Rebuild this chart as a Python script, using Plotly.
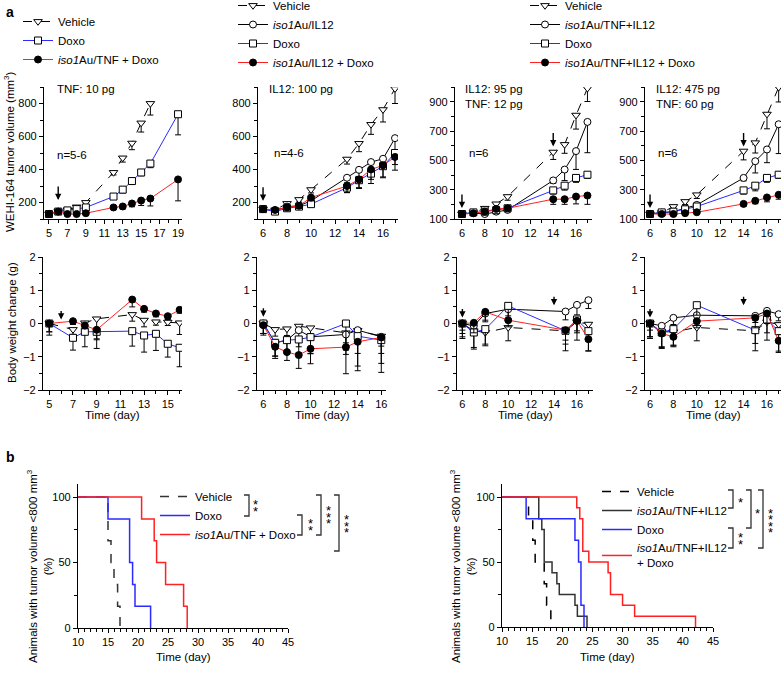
import plotly.graph_objects as go

W, H = 784, 673
FONT = "Liberation Sans, Arial, sans-serif"
BLUE = "#2b2bff"
RED = "#ff2222"

# ---------------- DATA ----------------
# Panel a, tumor volume (mm3) - panel 1 (TNF)
a1_veh_x = [5, 6, 7, 8, 9, 12, 13, 14, 15, 16]
a1_veh_y = [130, 145, 155, 173, 200, 382, 470, 560, 682, 800]
a1_veh_e = [5, 5, 10, 15, 15, 15, 25, 40, 55, 70]
a1_dox_x = [5, 6, 7, 8, 9, 12, 13, 14, 15, 16, 19]
a1_dox_y = [130, 145, 152, 160, 170, 236, 278, 330, 382, 436, 735]
a1_dox_e = [5, 5, 10, 10, 15, 15, 20, 20, 20, 25, 125]
a1_cmb_x = [5, 6, 7, 8, 9, 12, 13, 14, 15, 16, 19]
a1_cmb_y = [130, 145, 130, 130, 135, 170, 176, 194, 212, 224, 340]
a1_cmb_e = [5, 5, 5, 5, 5, 10, 15, 20, 30, 45, 130]

# panel 2 (IL12)
a2_x = [6, 7, 8, 9, 10, 13, 14, 15, 16, 17]
a2_veh_y = [160, 155, 194, 218, 278, 463, 558, 673, 763, 890]
a2_veh_e = [10, 10, 15, 15, 20, 30, 50, 60, 75, 90]
a2_il_y = [160, 150, 175, 180, 210, 350, 398, 445, 465, 590]
a2_il_e = [10, 10, 15, 15, 15, 30, 40, 50, 60, 90]
a2_dox_y = [160, 145, 165, 175, 190, 290, 335, 375, 420, 500]
a2_dox_e = [10, 10, 15, 15, 15, 30, 50, 60, 70, 70]
a2_cmb_y = [160, 155, 170, 180, 230, 300, 340, 400, 425, 476]
a2_cmb_e = [10, 10, 15, 15, 20, 40, 50, 60, 70, 80]

# panel 3 (IL12 95 pg / TNF 12 pg)
a3_x = [6, 7, 8, 9, 10, 14, 15, 16, 17]
a3_veh_y = [134, 143, 173, 203, 253, 556, 608, 808, 991]
a3_veh_e = [5, 10, 15, 20, 25, 50, 60, 95, 90]
a3_il_y = [134, 140, 134, 150, 162, 363, 437, 563, 762]
a3_il_e = [5, 5, 5, 10, 10, 20, 75, 125, 210]
a3_dox_y = [134, 145, 150, 160, 173, 295, 327, 380, 402]
a3_dox_e = [5, 5, 10, 10, 10, 25, 30, 30, 25]
a3_cmb_y = [134, 139, 150, 169, 173, 235, 235, 253, 260]
a3_cmb_e = [5, 5, 10, 10, 10, 35, 35, 50, 60]

# panel 4 (IL12 475 pg / TNF 60 pg)
a4_x = [6, 7, 8, 9, 10, 14, 15, 16, 17]
a4_veh_y = [134, 143, 185, 219, 265, 563, 620, 815, 998]
a4_veh_e = [5, 10, 15, 20, 25, 60, 70, 100, 100]
a4_il_y = [134, 143, 150, 173, 196, 380, 494, 574, 746]
a4_il_e = [5, 5, 10, 10, 10, 20, 80, 90, 200]
a4_dox_y = [134, 145, 150, 166, 185, 295, 327, 380, 402]
a4_dox_e = [5, 5, 10, 10, 10, 25, 35, 30, 25]
a4_cmb_y = [134, 134, 134, 140, 146, 203, 224, 247, 265]
a4_cmb_e = [5, 5, 5, 5, 5, 15, 20, 30, 30]

# Body weight change (g)
b1_x = [5, 7, 8, 9, 12, 13, 14, 15, 16]
b1_veh_y = [0, -0.18, 0.02, 0.14, 0.27, 0.10, 0.05, 0.04, 0.02]
b1_veh_e = [0.35, 0.15, 0.3, 0.6, 0.2, 0.2, 0.1, 0.1, 0.35]
b1_dox_y = [0, -0.43, -0.25, -0.25, -0.23, -0.36, -0.31, -0.61, -0.73]
b1_dox_e = [0.25, 0.37, 0.45, 0.5, 0.45, 0.5, 0.5, 0.4, 0.57]
b1_cmb_y = [0, 0.07, -0.06, -0.19, 0.72, 0.44, 0.30, 0.22, 0.41]
b1_cmb_e = [0.25, 0.1, 0.1, 0.3, 0.22, 0.1, 0.1, 0.1, 0.1]

b2_x = [6, 7, 8, 9, 10, 13, 14, 16]
b2_veh_y = [0, -0.18, -0.16, -0.08, -0.13, -0.28, -0.21, -0.38]
b2_veh_e = [0.3, 0.2, 0.2, 0.2, 0.3, 0.3, 0.3, 0.3]
b2_il_y = [0, -0.58, -0.50, -0.20, -0.40, -0.33, -0.20, -0.40]
b2_il_e = [0.3, 0.4, 0.4, 0.5, 0.5, 0.6, 0.7, 0.5]
b2_dox_y = [0, -0.58, -0.50, -0.48, -0.41, 0.0, -0.38, -0.50]
b2_dox_e = [0.3, 0.4, 0.4, 0.4, 0.5, 0.8, 0.9, 0.7]
b2_cmb_y = [-0.05, -0.70, -0.86, -0.95, -0.76, -0.71, -0.55, -0.42]
b2_cmb_e = [0.3, 0.35, 0.25, 0.4, 0.45, 0.8, 0.87, 1.05]

b3_x = [6, 7, 8, 10, 15, 16, 17]
b3_veh_y = [0, -0.22, -0.27, -0.12, -0.22, 0.05, -0.02]
b3_veh_e = [0.4, 0.5, 0.35, 0.4, 0.6, 0.55, 0.3]
b3_il_y = [0, -0.07, 0.30, 0.43, 0.36, 0.56, 0.70]
b3_il_e = [0.2, 0.2, 0.2, 0.3, 0.25, 0.3, 0.25]
b3_dox_y = [0, -0.27, -0.17, 0.53, -0.22, 0.12, -0.23]
b3_dox_e = [0.45, 0.5, 0.5, 0.3, 0.4, 0.4, 0.6]
b3_cmb_y = [0, 0.02, 0.35, 0.10, -0.20, 0.08, -0.47]
b3_cmb_e = [0.3, 0.3, 0.3, 0.2, 0.3, 0.3, 0.35]

b4_x = [6, 7, 8, 10, 15, 16, 17]
b4_veh_y = [0, -0.25, -0.25, -0.12, -0.22, 0.05, -0.03]
b4_veh_e = [0.4, 0.5, 0.4, 0.4, 0.6, 0.55, 0.3]
b4_il_y = [0, -0.07, 0.17, 0.25, 0.23, 0.38, 0.28]
b4_il_e = [0.2, 0.2, 0.2, 0.3, 0.2, 0.2, 0.2]
b4_dox_y = [0, -0.27, -0.17, 0.55, -0.20, 0.12, -0.23]
b4_dox_e = [0.45, 0.45, 0.5, 0.3, 0.4, 0.4, 0.6]
b4_cmb_y = [0, -0.30, -0.40, 0.07, 0.17, 0.30, -0.52]
b4_cmb_e = [0.4, 0.4, 0.3, 0.2, 0.3, 0.3, 0.35]

# Treatment days (arrows)
dose_a1 = [6]
dose_a2 = [6]
dose_a3 = [6, 14]
dose_a4 = [6, 14]

# Panel b: Kaplan-Meier (animals with tumor volume <800 mm3, %)
km1_veh_t = [10, 15, 15.5, 16, 16.6, 17]
km1_veh_s = [100, 66.7, 50, 33.3, 16.7, 0]
km1_dox_t = [10, 15, 18.6, 19.1, 19.5, 22.1]
km1_dox_s = [100, 83.3, 50, 33.3, 16.7, 0]
km1_cmb_t = [10, 20.6, 22.7, 23.1, 24.6, 27.6, 28.2]
km1_cmb_s = [100, 83.3, 66.7, 50, 33.3, 16.7, 0]

km2_veh_t = [10, 14.4, 15.1, 15.5, 17.0, 17.4, 18.1]
km2_veh_s = [100, 83.3, 66.7, 50, 33.3, 16.7, 0]
km2_il_t = [10, 16.1, 16.6, 17.0, 18.3, 19.1, 19.5, 22.1, 22.5, 24.1]
km2_il_s = [100, 83.3, 75, 50, 41.7, 33.3, 25, 16.7, 8.3, 0]
km2_dox_t = [10, 14.0, 22.1, 22.7, 23.1, 23.6]
km2_dox_s = [100, 83.3, 66.7, 50, 16.7, 0]
km2_cmb_t = [10, 22.4, 22.9, 23.4, 24.4, 27.6, 28.0, 30.0, 32.0, 42.1]
km2_cmb_s = [100, 91.7, 83.3, 58.3, 50, 41.7, 25, 16.7, 8.3, 0]

# Significance stars per bracket
sig_left = ["**", "**", "***", "***"]
sig_right = ["*", "*", "**", "****"]

# ---------------- LAYOUT HELPERS ----------------
def px(x):
    return x / W


def py(y):
    return 1 - y / H


fig = go.Figure()

axis_base = dict(showline=True, linecolor="black", linewidth=1.2, ticks="outside",
                 ticklen=4, tickwidth=1.2, tickcolor="black", showgrid=False, automargin=False,
                 zeroline=False, tickfont=dict(size=11, color="black", family=FONT))


def minor(d):
    return dict(ticks="outside", ticklen=2.5, tickwidth=1, tickcolor="black", dtick=d, showgrid=False)


# id, x px domain, y px domain(top,bottom), xrange, yrange, x tick0/dtick/minor, y tick0/dtick/minor
axes_cfg = [
    (1, (44, 182), (87, 219), (4.46, 19.43), (100, 900), (5, 2, 1), (200, 200, 100)),
    (2, (258, 398), (87, 219), (5.58, 17.25), (100, 900), (6, 2, 1), (200, 200, 100)),
    (3, (455, 592), (87, 219), (5.39, 17.4), (100, 1000), (6, 2, 1), (100, 200, 100)),
    (4, (645, 781), (87, 219), (5.57, 17.2), (100, 1000), (6, 2, 1), (100, 200, 100)),
    (5, (43, 182), (257, 390), (4.47, 16.2), (-2, 2), (5, 2, 1), (-2, 1, 0.5)),
    (6, (257, 386), (257, 390), (5.46, 16.4), (-2, 2), (6, 2, 1), (-2, 1, 0.5)),
    (7, (457, 593), (257, 390), (5.53, 17.4), (-2, 2), (6, 2, 1), (-2, 1, 0.5)),
    (8, (645, 781), (257, 390), (5.57, 17.2), (-2, 2), (6, 2, 1), (-2, 1, 0.5)),
    (9, (78, 288), (484, 628), (10, 45), (0, 110), (10, 5, 1), (0, 50, 25)),
    (10, (502, 713), (484, 627), (10, 45), (0, 110), (10, 5, 1), (0, 50, 25)),
]

for i, xd, yd, xr, yr, xt, yt in axes_cfg:
    sx = "" if i == 1 else str(i)
    fig.layout["xaxis" + sx] = dict(axis_base, domain=[px(xd[0]), px(xd[1])], range=list(xr),
                                    anchor="y" + sx, tick0=xt[0], dtick=xt[1], minor=minor(xt[2]))
    fig.layout["yaxis" + sx] = dict(axis_base, domain=[py(yd[1]), py(yd[0])], range=list(yr),
                                    anchor="x" + sx, tick0=yt[0], dtick=yt[1], minor=minor(yt[2]))

STYLES = {
    "veh": dict(line=dict(color="black", width=1, dash="dash"),
                marker=dict(symbol="triangle-down", size=7.5, color="white", line=dict(color="black", width=1))),
    "il": dict(line=dict(color="black", width=1),
               marker=dict(symbol="circle", size=7, color="white", line=dict(color="black", width=1))),
    "dox": dict(line=dict(color=BLUE, width=1),
                marker=dict(symbol="square", size=7, color="white", line=dict(color="black", width=1))),
    "cmb": dict(line=dict(color=RED, width=1),
                marker=dict(symbol="circle", size=7, color="black", line=dict(color="black", width=1))),
}


def series(i, x, y, e, kind, name, legend=None):
    sx = "" if i == 1 else str(i)
    st = STYLES[kind]
    fig.add_trace(go.Scatter(
        x=x, y=y, mode="lines+markers", name=name, xaxis="x" + sx, yaxis="y" + sx,
        line=st["line"], marker=st["marker"],
        error_y=dict(type="data", symmetric=False, array=[0] * len(e), arrayminus=e,
                     color="black", thickness=1, width=3),
        showlegend=legend is not None, legend=legend or "legend"))


ISO = "<i>iso1</i>Au"
# panel a1
series(1, a1_veh_x, a1_veh_y, a1_veh_e, "veh", "Vehicle", "legend")
series(1, a1_dox_x, a1_dox_y, a1_dox_e, "dox", "Doxo", "legend")
series(1, a1_cmb_x, a1_cmb_y, a1_cmb_e, "cmb", ISO + "/TNF + Doxo", "legend")
# panel a2
series(2, a2_x, a2_veh_y, a2_veh_e, "veh", "Vehicle", "legend2")
series(2, a2_x, a2_il_y, a2_il_e, "il", ISO + "/IL12", "legend2")
series(2, a2_x, a2_dox_y, a2_dox_e, "dox", "Doxo", "legend2")
series(2, a2_x, a2_cmb_y, a2_cmb_e, "cmb", ISO + "/IL12 + Doxo", "legend2")
# panel a3
series(3, a3_x, a3_veh_y, a3_veh_e, "veh", "Vehicle", "legend3")
series(3, a3_x, a3_il_y, a3_il_e, "il", ISO + "/TNF+IL12", "legend3")
series(3, a3_x, a3_dox_y, a3_dox_e, "dox", "Doxo", "legend3")
series(3, a3_x, a3_cmb_y, a3_cmb_e, "cmb", ISO + "/TNF+IL12 + Doxo", "legend3")
# panel a4
series(4, a4_x, a4_veh_y, a4_veh_e, "veh", "Vehicle")
series(4, a4_x, a4_il_y, a4_il_e, "il", "TNF+IL12")
series(4, a4_x, a4_dox_y, a4_dox_e, "dox", "Doxo")
series(4, a4_x, a4_cmb_y, a4_cmb_e, "cmb", "TNF+IL12 + Doxo")
# body weight
series(5, b1_x, b1_veh_y, b1_veh_e, "veh", "Vehicle")
series(5, b1_x, b1_dox_y, b1_dox_e, "dox", "Doxo")
series(5, b1_x, b1_cmb_y, b1_cmb_e, "cmb", "TNF + Doxo")
series(6, b2_x, b2_veh_y, b2_veh_e, "veh", "Vehicle")
series(6, b2_x, b2_il_y, b2_il_e, "il", "IL12")
series(6, b2_x, b2_dox_y, b2_dox_e, "dox", "Doxo")
series(6, b2_x, b2_cmb_y, b2_cmb_e, "cmb", "IL12 + Doxo")
series(7, b3_x, b3_veh_y, b3_veh_e, "veh", "Vehicle")
series(7, b3_x, b3_il_y, b3_il_e, "il", "TNF+IL12")
series(7, b3_x, b3_dox_y, b3_dox_e, "dox", "Doxo")
series(7, b3_x, b3_cmb_y, b3_cmb_e, "cmb", "TNF+IL12 + Doxo")
series(8, b4_x, b4_veh_y, b4_veh_e, "veh", "Vehicle")
series(8, b4_x, b4_il_y, b4_il_e, "il", "TNF+IL12")
series(8, b4_x, b4_dox_y, b4_dox_e, "dox", "Doxo")
series(8, b4_x, b4_cmb_y, b4_cmb_e, "cmb", "TNF+IL12 + Doxo")


def km(i, t, s, color, dash, name, legend):
    fig.add_trace(go.Scatter(x=t, y=s, mode="lines", line=dict(color=color, width=1.5, dash=dash, shape="hv"),
                             name=name, xaxis="x%d" % i, yaxis="y%d" % i, legend=legend))


km(9, km1_veh_t, km1_veh_s, "#333333", "dash", "Vehicle", "legend4")
km(9, km1_dox_t, km1_dox_s, BLUE, "solid", "Doxo", "legend4")
km(9, km1_cmb_t, km1_cmb_s, RED, "solid", ISO + "/TNF + Doxo", "legend4")
km(10, km2_veh_t, km2_veh_s, "black", "dash", "Vehicle", "legend5")
km(10, km2_il_t, km2_il_s, "#333333", "solid", ISO + "/TNF+IL12", "legend5")
km(10, km2_dox_t, km2_dox_s, BLUE, "solid", "Doxo", "legend5")
km(10, km2_cmb_t, km2_cmb_s, RED, "solid", ISO + "/TNF+IL12<br>+ Doxo", "legend5")

# ---------------- ANNOTATIONS ----------------
ann = []


def text(x, y, t, size=11.5, xanchor="left", angle=0, bold=False, family=FONT):
    ann.append(dict(x=px(x), y=py(y), xref="paper", yref="paper", text=("<b>%s</b>" % t) if bold else t,
                    showarrow=False, xanchor=xanchor, yanchor="middle", textangle=angle,
                    font=dict(size=size, color="black", family=family)))


text(4, 12, "a", 14, bold=True)
text(4, 457, "b", 14, bold=True)
text(55, 89, "TNF: 10 pg")
text(55, 155, "n=5-6")
text(267, 89, "IL12: 100 pg")
text(272, 153, "n=4-6")
text(463, 89, "IL12: 95 pg")
text(463, 104, "TNF: 12 pg")
text(467, 153, "n=6")
text(654, 89, "IL12: 475 pg")
text(654, 104, "TNF: 60 pg")
text(656, 153, "n=6")

text(9, 152, "WEHI-164 tumor volume (mm<sup>3</sup>)", 11.5, "center", -90)
text(12, 323, "Body weight change (g)", 11.5, "center", -90)
for cx in [112, 322, 525, 713]:
    text(cx, 415, "Time (day)", 11.5, "center")
text(183, 657, "Time (day)", 11.5, "center")
text(607, 657, "Time (day)", 11.5, "center")
text(39, 566, "Animals with tumor volume &lt;800 mm<sup>3</sup><br>(%)", 11.5, "center", -90)
text(462, 566, "Animals with tumor volume &lt;800 mm<sup>3</sup><br>(%)", 11.5, "center", -90)

# arrows at treatment days
def arrows(i, days, tip, ay):
    for d in days:
        ann.append(dict(x=d, y=tip, xref="x%d" % i if i > 1 else "x", yref="y%d" % i if i > 1 else "y",
                        ax=0, ay=ay, text="", showarrow=True, arrowhead=2, arrowsize=0.9,
                        arrowwidth=1.4, arrowcolor="black"))


arrows(1, dose_a1, 215, -15)
arrows(2, dose_a2, 210, -15)
arrows(3, [dose_a3[0]], 175, -15)
arrows(3, [dose_a3[1]], 595, -15)
arrows(4, [dose_a4[0]], 175, -15)
arrows(4, [dose_a4[1]], 595, -15)
arrows(5, dose_a1, 0.12, -10)
arrows(6, dose_a2, 0.2, -10)
arrows(7, [dose_a3[0]], 0.18, -10)
arrows(7, [dose_a3[1]], 0.55, -10)
arrows(8, [dose_a4[0]], 0.18, -10)
arrows(8, [dose_a4[1]], 0.55, -10)

# significance brackets
shapes = []


def bracket(x, y0, y1, stars, sx, sy):
    shapes.append(dict(type="path", xref="paper", yref="paper",
                       path="M %f,%f L %f,%f L %f,%f L %f,%f" % (px(x - 5), py(y0), px(x), py(y0),
                                                                px(x), py(y1), px(x - 5), py(y1)),
                       line=dict(color="#333333", width=1.3)))
    n = len(stars)
    for k in range(n):
        text(sx, sy + (k - (n - 1) / 2) * 6.5 + 3, "*", 13, "center")


bracket(249, 495, 516, sig_left[0], 256, 505)
bracket(302, 515, 535, sig_left[1], 310, 524)
bracket(321, 495, 535, sig_left[2], 328, 514)
bracket(339, 495, 551, sig_left[3], 346, 523)
bracket(733, 490, 508, sig_right[0], 740, 499)
bracket(751, 490, 528, sig_right[1], 757, 510)
bracket(733, 528, 548, sig_right[2], 740, 538)
bracket(763, 490, 548, sig_right[3], 770, 520)

leg_base = dict(bgcolor="rgba(0,0,0,0)", font=dict(size=11.5, color="black", family=FONT),
                xanchor="left", yanchor="top", tracegroupgap=0, itemwidth=30, traceorder="normal")

fig.update_layout(
    width=W, height=H, margin=dict(l=0, r=0, t=0, b=0, autoexpand=False),
    paper_bgcolor="white", plot_bgcolor="white",
    font=dict(family=FONT, color="black", size=11.5),
    annotations=ann, shapes=shapes,
    legend=dict(leg_base, x=px(18), y=py(7)),
    legend2=dict(leg_base, x=px(233), y=py(-9)),
    legend3=dict(leg_base, x=px(525), y=py(-9)),
    legend4=dict(leg_base, x=px(155), y=py(482)),
    legend5=dict(leg_base, x=px(597), y=py(477)),
)

fig.write_html("out.html", config={"displayModeBar": False},
               post_script="document.body.style.margin='0';")
